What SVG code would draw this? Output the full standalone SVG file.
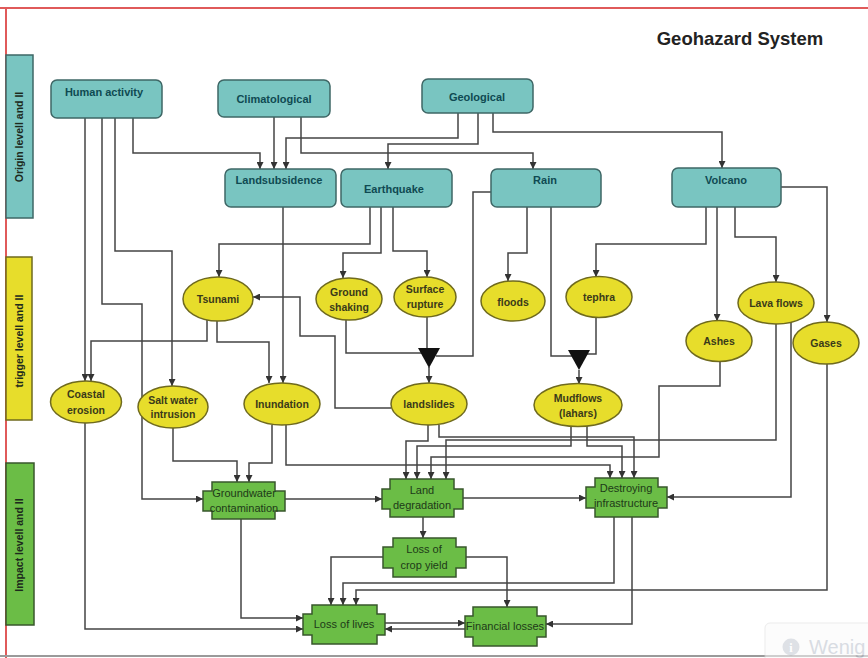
<svg xmlns="http://www.w3.org/2000/svg" width="868" height="658" viewBox="0 0 868 658">
<defs>
<marker id="ah" viewBox="0 0 10 10" refX="10" refY="5" markerWidth="7" markerHeight="7" orient="auto" markerUnits="userSpaceOnUse"><path d="M0,0 L10,5 L0,10 z" fill="#333"/></marker>
<style>
.teal{fill:#79c5c1;stroke:#3e6766;stroke-width:1.5}
.yel{fill:#e7dd2b;stroke:#6f6a1e;stroke-width:1.5}
.grn{fill:#6bbd46;stroke:#38572c;stroke-width:1.5}
.tt{font-family:"Liberation Sans",Arial,sans-serif;font-weight:bold;font-size:11px;fill:#0f4a52;text-anchor:middle}
.yt{font-family:"Liberation Sans",Arial,sans-serif;font-weight:bold;font-size:10.5px;fill:#3a3a1a;text-anchor:middle}
.gt{font-family:"Liberation Sans",Arial,sans-serif;font-size:11px;fill:#1d3a18;text-anchor:middle}
.st{font-family:"Liberation Sans",Arial,sans-serif;font-weight:bold;font-size:10.5px;fill:#1d2a1d;text-anchor:middle}
.c path{fill:none;stroke:#444;stroke-width:1.5}
.c path.a{marker-end:url(#ah)}
</style>
</defs>
<rect x="0" y="0" width="868" height="658" fill="#ffffff"/>
<line x1="0" y1="8" x2="868" y2="8" stroke="#e05a5a" stroke-width="2"/>
<line x1="6" y1="8" x2="6" y2="658" stroke="#e05a5a" stroke-width="2"/>
<line x1="0" y1="656" x2="868" y2="656" stroke="#9a9a9a" stroke-width="2"/>
<text x="740" y="45" font-family="'Liberation Sans',Arial,sans-serif" font-weight="bold" font-size="18.5" fill="#222" text-anchor="middle">Geohazard System</text>

<g id="band-origin"><rect x="6" y="55" width="27" height="163" class="teal"/><text class="st" transform="translate(23,137) rotate(-90)">Origin levell and II</text></g>
<g id="band-trigger"><rect x="6" y="257" width="26" height="163" class="yel"/><text class="st" transform="translate(23,341) rotate(-90)">trigger levell and II</text></g>
<g id="band-impact"><rect x="6" y="463" width="28" height="162" class="grn"/><text class="st" transform="translate(23,545) rotate(-90)">Impact levell and II</text></g>

<g class="c" id="connectors">
<path class="a" d="M133,118 V153 H260 V169"/>
<path class="a" d="M274,117 V169"/>
<path class="a" d="M458,113 V138 H286 V169"/>
<path class="a" d="M478,113 V144 H388 V169"/>
<path class="a" d="M301,117 V153 H533 V169"/>
<path class="a" d="M493,113 V132 H722 V168"/>
<path class="a" d="M85,118 V381"/>
<path class="a" d="M102,118 V304 H142 V499 H203"/>
<path class="a" d="M115,118 V251 H172 V386"/>
<path class="a" d="M283,207 V383"/>
<path class="a" d="M370,207 V244 H219 V277"/>
<path class="a" d="M381,207 V253 H343 V278"/>
<path class="a" d="M393,207 V251 H427 V277"/>
<path d="M491,192 H473 V356 H436"/>
<path class="a" d="M527,207 V253 H508 V281"/>
<path d="M551,207 V356 H572"/>
<path class="a" d="M706,207 V244 H596 V277"/>
<path class="a" d="M717,207 V321"/>
<path class="a" d="M735,207 V237 H776 V282"/>
<path class="a" d="M781,187 H827 V322"/>
<path d="M346,320 V353 H422"/>
<path d="M427,317 V348"/>
<path class="a" d="M429,367 V383"/>
<path d="M596,318 V354 H587"/>
<path class="a" d="M579,370 V384"/>
<path class="a" d="M391,408 H335 V336 H300 V297 H253"/>
<path class="a" d="M207,320 V341 H91 V381"/>
<path class="a" d="M217,321 V342 H269 V383"/>
<path class="a" d="M85,423 V629 H303"/>
<path class="a" d="M173,428 V461 H237 V482"/>
<path class="a" d="M272,425 V463 H249 V482"/>
<path class="a" d="M286,425 V465 H610 V478"/>
<path class="a" d="M428,425 V441 H406 V479"/>
<path class="a" d="M439,425 V437 H634 V478"/>
<path class="a" d="M776,324 V440 H446 V479"/>
<path class="a" d="M571,426 V446 H417 V479"/>
<path class="a" d="M587,426 V446 H622 V478"/>
<path class="a" d="M720,362 V386 H659 V457 H431 V479"/>
<path class="a" d="M791,322 V497 H667"/>
<path class="a" d="M827,364 V590 H356 V605"/>
<path class="a" d="M285,499 H382"/>
<path class="a" d="M463,498 H586"/>
<path class="a" d="M423,517 V538"/>
<path class="a" d="M241,519 V618 H303"/>
<path class="a" d="M383,557 H331 V605"/>
<path class="a" d="M466,557 H507 V607"/>
<path class="a" d="M614,517 V583 H343 V605"/>
<path class="a" d="M632,517 V624 H546"/>
<path class="a" d="M385,623 H465"/>
<path class="a" d="M465,629 H385"/>
</g>

<g id="funnel1"><path d="M418,348 H440 L429,368 Z" fill="#111"/></g>
<g id="funnel2"><path d="M568,350 H590 L579,370 Z" fill="#111"/></g>

<g id="human-activity"><rect x="51" y="80" width="111" height="38" rx="6" class="teal"/><text x="104" y="96" class="tt">Human activity</text></g>
<g id="climatological"><rect x="218" y="80" width="112" height="37" rx="6" class="teal"/><text x="274" y="103" class="tt">Climatological</text></g>
<g id="geological"><rect x="422" y="79" width="111" height="34" rx="6" class="teal"/><text x="477" y="101" class="tt">Geological</text></g>
<g id="landsubsidence"><rect x="225" y="169" width="111" height="38" rx="6" class="teal"/><text x="279" y="184" class="tt">Landsubsidence</text></g>
<g id="earthquake"><rect x="341" y="169" width="111" height="38" rx="6" class="teal"/><text x="394" y="193" class="tt">Earthquake</text></g>
<g id="rain"><rect x="491" y="169" width="110" height="38" rx="6" class="teal"/><text x="545" y="184" class="tt">Rain</text></g>
<g id="volcano"><rect x="672" y="168" width="109" height="39" rx="6" class="teal"/><text x="726" y="184" class="tt">Volcano</text></g>

<g id="tsunami"><ellipse cx="218" cy="299" rx="35" ry="22" class="yel"/><text x="218" y="302.5" class="yt">Tsunami</text></g>
<g id="ground-shaking"><ellipse cx="349" cy="299" rx="33" ry="21" class="yel"/><text x="349" y="295.5" class="yt">Ground</text><text x="349" y="310.5" class="yt">shaking</text></g>
<g id="surface-rupture"><ellipse cx="425" cy="297" rx="31" ry="20" class="yel"/><text x="425" y="292.5" class="yt">Surface</text><text x="425" y="307.5" class="yt">rupture</text></g>
<g id="floods"><ellipse cx="513" cy="301" rx="32" ry="20" class="yel"/><text x="513" y="305.5" class="yt">floods</text></g>
<g id="tephra"><ellipse cx="599" cy="297" rx="33" ry="20.5" class="yel"/><text x="599" y="300.5" class="yt">tephra</text></g>
<g id="lava-flows"><ellipse cx="776" cy="303" rx="38" ry="21" class="yel"/><text x="776" y="306.5" class="yt">Lava flows</text></g>
<g id="ashes"><ellipse cx="719" cy="341" rx="33" ry="20.5" class="yel"/><text x="719" y="344.5" class="yt">Ashes</text></g>
<g id="gases"><ellipse cx="826" cy="343" rx="33" ry="21" class="yel"/><text x="826" y="347" class="yt">Gases</text></g>
<g id="coastal-erosion"><ellipse cx="86" cy="402" rx="35.5" ry="21" class="yel"/><text x="86" y="397.5" class="yt">Coastal</text><text x="86" y="413.5" class="yt">erosion</text></g>
<g id="salt-water-intrusion"><ellipse cx="173" cy="407" rx="35" ry="21" class="yel"/><text x="173" y="403.5" class="yt">Salt water</text><text x="173" y="417.5" class="yt">intrusion</text></g>
<g id="inundation"><ellipse cx="282" cy="404" rx="38" ry="21" class="yel"/><text x="282" y="407.5" class="yt">Inundation</text></g>
<g id="landslides"><ellipse cx="429" cy="404" rx="38" ry="21" class="yel"/><text x="429" y="407.5" class="yt">landslides</text></g>
<g id="mudflows"><ellipse cx="578" cy="405" rx="44" ry="21.5" class="yel"/><text x="578" y="401.5" class="yt">Mudflows</text><text x="578" y="416.5" class="yt">(lahars)</text></g>

<g id="groundwater-contamination"><path class="grn" d="M212,482 H275 V491 H285 V511 H275 V519 H212 V511 H203 V491 H212 Z"/><text x="244" y="497" class="gt">Groundwater</text><text x="244" y="512" class="gt">contamination</text></g>
<g id="land-degradation"><path class="grn" d="M390,479 H454 V489 H463 V509 H454 V517 H390 V509 H382 V489 H390 Z"/><text x="422" y="494" class="gt">Land</text><text x="422" y="509" class="gt">degradation</text></g>
<g id="destroying-infrastructure"><path class="grn" d="M595,478 H658 V487 H667 V508 H658 V517 H595 V508 H586 V487 H595 Z"/><text x="626" y="492" class="gt">Destroying</text><text x="626" y="507" class="gt">infrastructure</text></g>
<g id="loss-of-crop-yield"><path class="grn" d="M393,538 H456 V547 H466 V568 H456 V577 H393 V568 H383 V547 H393 Z"/><text x="424" y="553" class="gt">Loss of</text><text x="424" y="569" class="gt">crop yield</text></g>
<g id="loss-of-lives"><path class="grn" d="M312,605 H377 V614 H385 V635 H377 V644 H312 V635 H303 V614 H312 Z"/><text x="344" y="628" class="gt">Loss of lives</text></g>
<g id="financial-losses"><path class="grn" d="M473,607 H537 V616 H546 V637 H537 V646 H473 V637 H465 V616 H473 Z"/><text x="505" y="630" class="gt">Financial losses</text></g>

<g id="watermark" opacity="0.55">
<rect x="765" y="623" width="110" height="44" rx="5" fill="#fafafa" stroke="#dddddd"/>
<circle cx="791" cy="647" r="8.5" fill="#c4cad3"/>
<text x="791" y="651.5" font-family="'Liberation Serif',serif" font-weight="bold" font-size="12" fill="#ffffff" text-anchor="middle">i</text>
<text x="809" y="654" font-family="'Liberation Sans',Arial,sans-serif" font-size="20" fill="#b9c0cc">Wenig</text>
</g>
</svg>
